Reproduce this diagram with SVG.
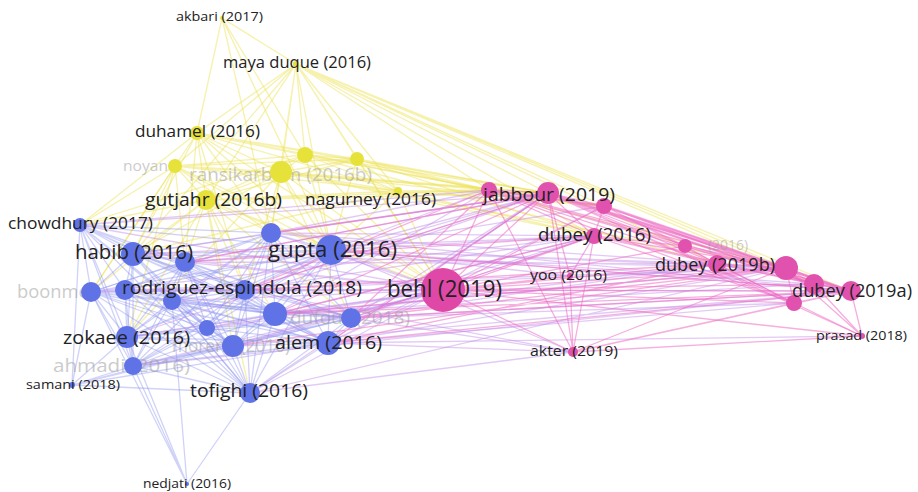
<svg xmlns="http://www.w3.org/2000/svg" width="918" height="492" viewBox="0 0 918 492">
<style>
text{font-family:"Open Sans","Noto Sans","Liberation Sans",sans-serif;fill:#222}
.f{fill:#999;opacity:.5}
.ey,.eb,.ep,.ebp{fill:none;stroke-width:1.3;stroke-linecap:round}
.ey{stroke:#eee35a;opacity:.5}
.eb{stroke:#8f94ee;opacity:.42}
.ebp{stroke:#c08ae8;opacity:.45}
.ep{stroke:#ee6cc4;opacity:.55}
.ept{fill:none;stroke:#ec6cc2;stroke-width:2.5;opacity:.5}
.ny{fill:#e6e23a}
.nb{fill:#5f73e6}
.np{fill:#e052ad}
</style>
<rect width="918" height="492" fill="#fff"/>
<g id="connectors">
<path class="ey" d="M222 18L296 64M222 18L271 233M222 18L331 250M222 18L197 133M222 18L305 155"/>
<path class="ey" d="M296 64L197 133M296 64L175 166M296 64L281 172M296 64L305 155M296 64L357 159M296 64L206 200M296 64L398 191M296 64L548 193M296 64L489 190M296 64L604 206M296 64L594 236M296 64L717 264M296 64L786 268M296 64L851 291M296 64L443 290M296 64L271 233M296 64L331 250M296 64L133 254M296 64L814 284"/>
<path class="ey" d="M197 133L175 166M197 133L281 172M197 133L305 155M197 133L357 159M197 133L206 200M197 133L398 191M197 133L80 225M197 133L133 254M197 133L271 233M197 133L331 250M197 133L185 262M197 133L443 290M197 133L548 193M197 133L489 190M197 133L91 292M197 133L245 290"/>
<path class="ey" d="M175 166L281 172M175 166L305 155M175 166L357 159M175 166L206 200M175 166L398 191M175 166L80 225M175 166L133 254M175 166L271 233M175 166L331 250M175 166L443 290M175 166L548 193M175 166L127 337M175 166L91 292M175 166L185 262"/>
<path class="ey" d="M281 172L305 155M281 172L357 159M281 172L206 200M281 172L398 191M281 172L489 190M281 172L548 193M281 172L443 290M281 172L331 250M281 172L271 233M281 172L133 254M281 172L245 290M281 172L604 206M281 172L594 236M281 172L786 268M281 172L351 318M281 172L127 337"/>
<path class="ey" d="M305 155L357 159M305 155L206 200M305 155L398 191M305 155L489 190M305 155L548 193M305 155L443 290M305 155L331 250M305 155L80 225M305 155L717 264"/>
<path class="ey" d="M357 159L206 200M357 159L398 191M357 159L489 190M357 159L548 193M357 159L443 290M357 159L331 250M357 159L786 268M357 159L594 236"/>
<path class="ey" d="M206 200L398 191M206 200L489 190M206 200L548 193M206 200L443 290M206 200L331 250M206 200L271 233M206 200L133 254M206 200L80 225M206 200L185 262M206 200L245 290M206 200L91 292M206 200L127 337M206 200L275 314M206 200L351 318M206 200L250 393M206 200L233 346"/>
<path class="ey" d="M398 191L489 190M398 191L548 193M398 191L443 290M398 191L331 250M398 191L594 236M398 191L604 206M398 191L133 254"/>
<path class="eb" d="M80 225L271 233M80 225L331 250M80 225L133 254M80 225L185 262M80 225L91 292M80 225L125 290M80 225L245 290M80 225L172 301M80 225L275 314M80 225L351 318M80 225L127 337M80 225L207 328M80 225L233 346M80 225L328 343M80 225L133 366M80 225L250 393"/>
<path class="eb" d="M271 233L331 250M271 233L133 254M271 233L185 262M271 233L91 292M271 233L125 290M271 233L245 290M271 233L172 301M271 233L275 314M271 233L351 318M271 233L127 337M271 233L207 328M271 233L233 346M271 233L328 343M271 233L133 366M271 233L250 393"/>
<path class="eb" d="M331 250L133 254M331 250L185 262M331 250L91 292M331 250L125 290M331 250L245 290M331 250L172 301M331 250L275 314M331 250L351 318M331 250L127 337M331 250L207 328M331 250L233 346M331 250L328 343M331 250L133 366M331 250L250 393"/>
<path class="eb" d="M133 254L185 262M133 254L91 292M133 254L125 290M133 254L245 290M133 254L172 301M133 254L275 314M133 254L351 318M133 254L127 337M133 254L207 328M133 254L233 346M133 254L328 343M133 254L133 366M133 254L250 393"/>
<path class="eb" d="M185 262L91 292M185 262L125 290M185 262L245 290M185 262L172 301M185 262L275 314M185 262L351 318M185 262L127 337M185 262L207 328M185 262L233 346M185 262L328 343M185 262L133 366M185 262L250 393"/>
<path class="eb" d="M91 292L125 290M91 292L245 290M91 292L172 301M91 292L275 314M91 292L351 318M91 292L127 337M91 292L207 328M91 292L233 346M91 292L328 343M91 292L133 366M91 292L250 393"/>
<path class="eb" d="M125 290L245 290M125 290L172 301M125 290L275 314M125 290L351 318M125 290L127 337M125 290L207 328M125 290L233 346M125 290L328 343M125 290L133 366M125 290L250 393"/>
<path class="eb" d="M245 290L172 301M245 290L275 314M245 290L351 318M245 290L127 337M245 290L207 328M245 290L233 346M245 290L328 343M245 290L133 366M245 290L250 393"/>
<path class="eb" d="M172 301L275 314M172 301L351 318M172 301L127 337M172 301L207 328M172 301L233 346M172 301L328 343M172 301L133 366M172 301L250 393"/>
<path class="eb" d="M275 314L351 318M275 314L127 337M275 314L207 328M275 314L233 346M275 314L328 343M275 314L133 366M275 314L250 393"/>
<path class="eb" d="M351 318L127 337M351 318L207 328M351 318L233 346M351 318L328 343M351 318L133 366M351 318L250 393"/>
<path class="eb" d="M127 337L207 328M127 337L233 346M127 337L328 343M127 337L133 366M127 337L250 393"/>
<path class="eb" d="M207 328L233 346M207 328L328 343M207 328L133 366M207 328L250 393M233 346L328 343M233 346L133 366M233 346L250 393M328 343L133 366M328 343L250 393M133 366L250 393"/>
<path class="eb" d="M72 385L80 225M72 385L127 337M72 385L133 366M72 385L250 393M72 385L91 292M72 385L233 346M72 385L328 343M72 385L443 290M72 385L351 318"/>
<path class="eb" d="M187 484L250 393M187 484L133 366M187 484L127 337M187 484L172 301M187 484L91 292"/>
<path class="ebp" d="M331 250L443 290M331 250L489 190M331 250L548 193M331 250L594 236M331 250L717 264M331 250L786 268M331 250L851 291M331 250L814 284M331 250L570 276M331 250L573 352M331 250L604 206"/>
<path class="ebp" d="M271 233L443 290M271 233L489 190M271 233L548 193M271 233L594 236M271 233L786 268M271 233L851 291"/>
<path class="ebp" d="M133 254L443 290M133 254L548 193M133 254L594 236M133 254L786 268M185 262L443 290M185 262L548 193M185 262L717 264"/>
<path class="ebp" d="M245 290L443 290M245 290L548 193M245 290L594 236M245 290L786 268M245 290L851 291M245 290L573 352"/>
<path class="ebp" d="M275 314L443 290M275 314L489 190M275 314L594 236M275 314L786 268M275 314L814 284"/>
<path class="ebp" d="M351 318L443 290M351 318L548 193M351 318L594 236M351 318L717 264M351 318L851 291M351 318L794 303M351 318L573 352"/>
<path class="ebp" d="M328 343L443 290M328 343L548 193M328 343L786 268M328 343L862 336M328 343L573 352M328 343L794 303M328 343L604 206"/>
<path class="ebp" d="M250 393L443 290M250 393L548 193M250 393L786 268M250 393L573 352M127 337L443 290M127 337L548 193M233 346L443 290M233 346L594 236M233 346L851 291"/>
<path class="ebp" d="M207 328L443 290M207 328L717 264M80 225L443 290M80 225L489 190M80 225L548 193M91 292L443 290M91 292L594 236M125 290L443 290M125 290L786 268M172 301L443 290M172 301L548 193M133 366L443 290M133 366L851 291"/>
<path class="ep" d="M548 193L271 233M548 193L245 290M548 193L275 314M548 193L328 343M548 193L185 262M851 291L331 250M851 291L351 318M851 291L328 343M851 291L275 314M594 236L275 314M594 236L185 262M594 236L351 318M786 268L351 318M786 268L275 314M786 268L233 346M717 264L245 290M717 264L328 343M489 190L245 290M489 190L351 318"/>
<path class="ep" d="M443 290L489 190M443 290L548 193M443 290L604 206M443 290L594 236M443 290L685 246M443 290L717 264M443 290L786 268M443 290L570 276M443 290L814 284M443 290L851 291M443 290L794 303M443 290L862 336M443 290L573 352"/>
<path class="ep" d="M489 190L548 193M489 190L604 206M489 190L594 236M489 190L717 264M489 190L786 268M489 190L851 291M489 190L814 284M489 190L794 303M489 190L573 352"/>
<path class="ep" d="M548 193L604 206M548 193L594 236M548 193L685 246M548 193L717 264M548 193L786 268M548 193L814 284M548 193L851 291M548 193L794 303M548 193L862 336M548 193L570 276M548 193L573 352"/>
<path class="ep" d="M604 206L594 236M604 206L685 246M604 206L786 268M604 206L814 284M604 206L851 291M604 206L794 303"/>
<path class="ep" d="M594 236L685 246M594 236L717 264M594 236L786 268M594 236L814 284M594 236L851 291M594 236L794 303M594 236L573 352M594 236L570 276"/>
<path class="ep" d="M685 246L786 268M685 246L814 284M685 246L851 291M685 246L717 264M717 264L786 268M717 264L814 284M717 264L851 291M717 264L794 303"/>
<path class="ep" d="M786 268L814 284M786 268L851 291M786 268L794 303M786 268L862 336M786 268L573 352M814 284L851 291M814 284L794 303M814 284L862 336"/>
<path class="ep" d="M851 291L794 303M851 291L862 336M851 291L573 352M794 303L862 336M794 303L573 352M570 276L573 352M573 352L862 336"/>
<path class="ept" d="M548 193L786 268M604 206L851 291M548 193L814 284M489 190L604 206M604 206L786 268"/>
</g>
<g id="n-noyan"><text class="f" x="123" y="171" font-size="15" textLength="45" lengthAdjust="spacingAndGlyphs">noyan</text><circle class="ny" cx="175" cy="166" r="7"/></g>
<g id="n-ransikarbum"><text class="f" x="189" y="181" font-size="19" textLength="183" lengthAdjust="spacingAndGlyphs">ransikarbum (2016b)</text><circle class="ny" cx="281" cy="172" r="11"/></g>
<g id="n-boonmee"><text class="f" x="17" y="298" font-size="19" textLength="82" lengthAdjust="spacingAndGlyphs">boonmee</text><circle class="nb" cx="91" cy="292" r="10"/></g>
<g id="n-dufour"><text class="f" x="290" y="324" font-size="19" textLength="120" lengthAdjust="spacingAndGlyphs">dufour (2018)</text><circle class="nb" cx="351" cy="318" r="10"/></g>
<g id="n-moreno"><text class="f" x="172" y="352" font-size="17.5" textLength="118" lengthAdjust="spacingAndGlyphs">moreno (2016)</text><circle class="nb" cx="233" cy="346" r="11"/></g>
<g id="n-ahmadi"><text class="f" x="53" y="372" font-size="17.5" textLength="137" lengthAdjust="spacingAndGlyphs">ahmadi (2016)</text><circle class="nb" cx="133" cy="366" r="9"/></g>
<g id="n-p6"><text class="f" x="708" y="250" font-size="15" textLength="40" lengthAdjust="spacingAndGlyphs">(2016)</text><circle class="np" cx="685" cy="246" r="7"/></g>
<g id="n-y6"><circle class="ny" cx="305" cy="155" r="8"/></g>
<g id="n-y7"><circle class="ny" cx="357" cy="159" r="7"/></g>
<g id="n-b2"><circle class="nb" cx="271" cy="233" r="10"/></g>
<g id="n-b5"><circle class="nb" cx="185" cy="262" r="10"/></g>
<g id="n-b7"><circle class="nb" cx="125" cy="290" r="10"/></g>
<g id="n-b8"><circle class="nb" cx="245" cy="290" r="10"/></g>
<g id="n-b9"><circle class="nb" cx="172" cy="301" r="9"/></g>
<g id="n-b10"><circle class="nb" cx="275" cy="314" r="12"/></g>
<g id="n-b13"><circle class="nb" cx="207" cy="328" r="8"/></g>
<g id="n-p2"><circle class="np" cx="489" cy="190" r="8"/></g>
<g id="n-p4"><circle class="np" cx="604" cy="206" r="8"/></g>
<g id="n-p7"><circle class="np" cx="717" cy="264" r="9"/></g>
<g id="n-p8"><circle class="np" cx="786" cy="268" r="12"/></g>
<g id="n-p10"><circle class="np" cx="814" cy="284" r="10"/></g>
<g id="n-p12"><circle class="np" cx="794" cy="303" r="8"/></g>
<g id="n-akbari"><circle class="ny" cx="222" cy="18" r="2"/><text x="176" y="21" font-size="12" textLength="87" lengthAdjust="spacingAndGlyphs">akbari (2017)</text></g>
<g id="n-mayaduque"><circle class="ny" cx="296" cy="64" r="3"/><text x="223" y="68" font-size="15.5" textLength="148" lengthAdjust="spacingAndGlyphs">maya duque (2016)</text></g>
<g id="n-duhamel"><circle class="ny" cx="197" cy="133" r="7"/><text x="135" y="137" font-size="16.5" textLength="125" lengthAdjust="spacingAndGlyphs">duhamel (2016)</text></g>
<g id="n-gutjahr"><circle class="ny" cx="206" cy="200" r="10"/><text x="145" y="206" font-size="19" textLength="137" lengthAdjust="spacingAndGlyphs">gutjahr (2016b)</text></g>
<g id="n-nagurney"><circle class="ny" cx="398" cy="191" r="4"/><text x="305" y="205" font-size="16.5" textLength="131" lengthAdjust="spacingAndGlyphs">nagurney (2016)</text></g>
<g id="n-chowdhury"><circle class="nb" cx="80" cy="225" r="7"/><text x="8" y="229" font-size="16.5" textLength="145" lengthAdjust="spacingAndGlyphs">chowdhury (2017)</text></g>
<g id="n-habib"><circle class="nb" cx="133" cy="254" r="12"/><text x="75" y="259" font-size="20.5" textLength="118" lengthAdjust="spacingAndGlyphs">habib (2016)</text></g>
<g id="n-gupta"><circle class="nb" cx="331" cy="250" r="15"/><text x="268" y="257" font-size="22" textLength="129" lengthAdjust="spacingAndGlyphs">gupta (2016)</text></g>
<g id="n-zokaee"><circle class="nb" cx="127" cy="337" r="11"/><text x="63" y="344" font-size="19" textLength="127" lengthAdjust="spacingAndGlyphs">zokaee (2016)</text></g>
<g id="n-alem"><circle class="nb" cx="328" cy="343" r="12"/><text x="275" y="349" font-size="19" textLength="107" lengthAdjust="spacingAndGlyphs">alem (2016)</text></g>
<g id="n-samani"><circle class="nb" cx="72" cy="385" r="3"/><text x="26" y="389" font-size="13" textLength="94" lengthAdjust="spacingAndGlyphs">samani (2018)</text></g>
<g id="n-tofighi"><circle class="nb" cx="250" cy="393" r="10"/><text x="190" y="397" font-size="19" textLength="118" lengthAdjust="spacingAndGlyphs">tofighi (2016)</text></g>
<g id="n-nedjati"><circle class="nb" cx="187" cy="484" r="2"/><text x="143" y="488" font-size="13" textLength="88" lengthAdjust="spacingAndGlyphs">nedjati (2016)</text></g>
<g id="n-rodriguez"><text x="122" y="294" font-size="19" textLength="240" lengthAdjust="spacingAndGlyphs">rodriguez-espindola (2018)</text></g>
<g id="n-behl"><circle cx="443" cy="290" r="22" fill="#df48a6"/><text x="387" y="297" font-size="23.5" textLength="115" lengthAdjust="spacingAndGlyphs">behl (2019)</text></g>
<g id="n-jabbour"><circle class="np" cx="548" cy="193" r="11"/><text x="483" y="201" font-size="19" textLength="132" lengthAdjust="spacingAndGlyphs">jabbour (2019)</text></g>
<g id="n-dubey2016"><circle class="np" cx="594" cy="236" r="8"/><text x="538" y="241" font-size="17.5" textLength="113" lengthAdjust="spacingAndGlyphs">dubey (2016)</text></g>
<g id="n-dubey2019b"><text x="655" y="271" font-size="19" textLength="120" lengthAdjust="spacingAndGlyphs">dubey (2019b)</text></g>
<g id="n-yoo"><circle class="np" cx="570" cy="276" r="3"/><text x="530" y="280" font-size="14" textLength="77" lengthAdjust="spacingAndGlyphs">yoo (2016)</text></g>
<g id="n-dubey2019a"><circle class="np" cx="851" cy="291" r="10"/><text x="792" y="297" font-size="19" textLength="120" lengthAdjust="spacingAndGlyphs">dubey (2019a)</text></g>
<g id="n-prasad"><circle class="np" cx="862" cy="336" r="3"/><text x="816" y="340" font-size="13" textLength="91" lengthAdjust="spacingAndGlyphs">prasad (2018)</text></g>
<g id="n-akter"><circle class="np" cx="573" cy="352" r="5"/><text x="530" y="356" font-size="14" textLength="88" lengthAdjust="spacingAndGlyphs">akter (2019)</text></g>
</svg>
